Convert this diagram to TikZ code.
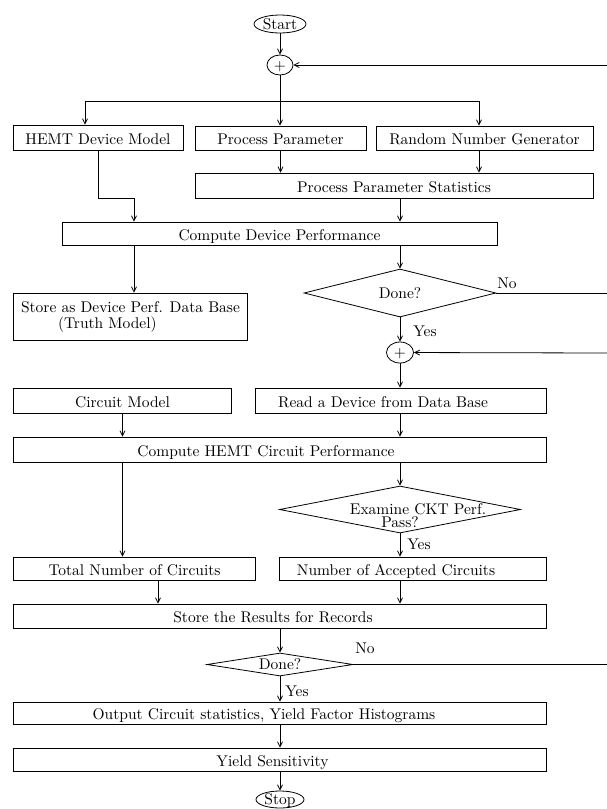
\documentclass[tikz,border=0pt]{standalone}
\usepackage{graphicx}
\usetikzlibrary{shapes.geometric,arrows.meta,calc}
\newcommand\sctext[1]{\scalebox{1.55}{#1}}
\begin{document}
\begin{tikzpicture}[x=1pt,y=-1pt,
  every node/.style={font=\fontsize{10}{12}\selectfont},
  box/.style={draw,rectangle,line width=0.8pt,inner sep=0pt,text height=13pt,text depth=0pt},
  box2/.style={draw,rectangle,line width=0.8pt,inner sep=0pt,align=left},
  oval/.style={draw,ellipse,line width=0.8pt,inner sep=0pt,text height=10pt,text depth=0pt},
  dia/.style={draw,diamond,line width=0.8pt,inner sep=0pt,aspect=4,text height=10pt,text depth=0pt},
  ln/.style={line width=0.8pt},
  arr/.style={ln,-{Straight Barb[length=5pt,width=5pt]}},
  lab/.style={inner sep=0pt}]
\useasboundingbox (0,0) rectangle (607,809);

% nodes
\node[oval,minimum width=52pt,minimum height=18pt] (start) at (280,24) {\sctext{Start}};
\node[oval,minimum width=26pt,minimum height=20pt] (p1) at (280,65) {\sctext{$+$}};
\node[box,minimum width=170pt,minimum height=25pt] (hemt) at (98,137.5) {\sctext{HEMT Device Model}};
\node[box,minimum width=171pt,minimum height=24pt] (pp) at (280.5,138) {\sctext{Process Parameter}};
\node[box,minimum width=217pt,minimum height=24pt] (rng) at (484.5,138) {\sctext{Random Number Generator}};
\node[box,minimum width=398pt,minimum height=25pt] (pps) at (394,185.5) {\sctext{Process Parameter Statistics}};
\node[box,minimum width=435pt,minimum height=23pt] (cdp) at (279.5,233.5) {\sctext{Compute Device Performance}};
\node[box2,minimum width=234pt,minimum height=47pt] (store) at (130.5,316.5) {\sctext{Store as Device Perf. Data Base}\\[4pt]\hspace*{37pt}\sctext{(Truth Model)}};
\node[dia,minimum width=192pt,minimum height=48pt] (d1) at (400,293) {\makebox[0pt]{\sctext{Done?}}};
\node[oval,minimum width=27pt,minimum height=21pt] (p2) at (400,352.5) {\sctext{$+$}};
\node[box,minimum width=218pt,minimum height=25pt] (cm) at (122.5,400.5) {\sctext{Circuit Model}};
\node[box,minimum width=290.5pt,minimum height=25pt] (rd) at (401,400.5) {\sctext{Read a Device from Data Base}\kern36pt};
\node[box,minimum width=532.5pt,minimum height=25pt] (chcp) at (280,449.5) {\sctext{Compute HEMT Circuit Performance}\kern28pt};
\node[dia,minimum width=241pt,minimum height=47pt] (d2) at (400,509.5) {\makebox[0pt]{\hspace*{36pt}\sctext{Examine CKT Perf.}}\makebox[0pt]{\raisebox{-13pt}[0pt][0pt]{\sctext{Pass?}}}};
\node[box,minimum width=242pt,minimum height=23pt] (tot) at (134.5,568.5) {\sctext{Total Number of Circuits}};
\node[box,minimum width=266.5pt,minimum height=23pt] (acc) at (413,568.5) {\sctext{Number of Accepted Circuits}\kern34pt};
\node[box,minimum width=532.5pt,minimum height=24pt] (sr) at (280,616) {\sctext{Store the Results for Records}\kern14pt};
\node[dia,minimum width=146pt,minimum height=23pt] (d3) at (280,664.5) {\makebox[0pt]{\sctext{Done?}}};
\node[box,minimum width=532.5pt,minimum height=22pt] (out) at (280,713) {\sctext{Output Circuit statistics, Yield Factor Histograms}\kern32pt};
\node[box,minimum width=532.5pt,minimum height=23pt] (ys) at (280,759.5) {\sctext{Yield Sensitivity}\kern15pt};
\node[oval,minimum width=48pt,minimum height=17pt] (stop) at (280,799.5) {\sctext{Stop}};

% labels
\node[lab] (no1) at (507,283) {\sctext{No}};
\node[lab] (yes1) at (425,331) {\sctext{Yes}};
\node[lab] (yes2) at (419,544) {\sctext{Yes}};
\node[lab] (no2) at (365,648) {\sctext{No}};
\node[lab] (yes3) at (297,691) {\sctext{Yes}};

% coordinates
\coordinate (e1) at (607,65);
\coordinate (e2) at (607,293);
\coordinate (e3) at (607,353);
\coordinate (e4) at (607,664.5);
\coordinate (bl) at (85,101);
\coordinate (br) at (280,101);
\coordinate (brr) at (479,101);
\coordinate (h1) at (134,198);
\coordinate (cR) at (400,0);
\coordinate (tx) at (158,0);

% connectors
\draw[arr] (start) -- (p1);
\draw[ln] (p1) -- (br);
\draw[ln] (bl) -- (brr);
\draw[arr] (bl) -- (bl |- hemt.north);
\draw[arr] (br) -- (br |- pp.north);
\draw[arr] (brr) -- (brr |- rng.north);
\draw[arr] (e1) -- (p1);
\draw[arr] (hemt.south) |- (h1) -- (h1 |- cdp.north);
\draw[arr] (pp.south) -- (pp.south |- pps.north);
\draw[arr] (brr |- rng.south) -- (brr |- pps.north);
\draw[arr] (cR |- pps.south) -- (cR |- cdp.north);
\draw[arr] (h1 |- cdp.south) -- (h1 |- store.north);
\draw[arr] (cR |- cdp.south) -- (d1.north);
\draw[ln] (d1.east) -- (e2);
\draw[arr] (d1.south) -- (p2);
\draw[arr] (e3) -- (p2);
\draw[arr] (p2) -- (cR |- rd.north);
\draw[arr] (cm.south) -- (cm.south |- chcp.north);
\draw[arr] (cR |- rd.south) -- (cR |- chcp.north);
\draw[arr] (cm.south |- chcp.south) -- (cm.south |- tot.north);
\draw[arr] (cR |- chcp.south) -- (d2.north);
\draw[arr] (d2.south) -- (d2.south |- acc.north);
\draw[arr] (tx |- tot.south) -- (tx |- sr.north);
\draw[arr] (cR |- acc.south) -- (cR |- sr.north);
\draw[arr] (d3.north |- sr.south) -- (d3.north);
\draw[ln] (d3.east) -- (e4);
\draw[arr] (d3.south) -- (d3.south |- out.north);
\draw[arr] (out) -- (ys);
\draw[arr] (ys) -- (stop);
\end{tikzpicture}
\end{document}
